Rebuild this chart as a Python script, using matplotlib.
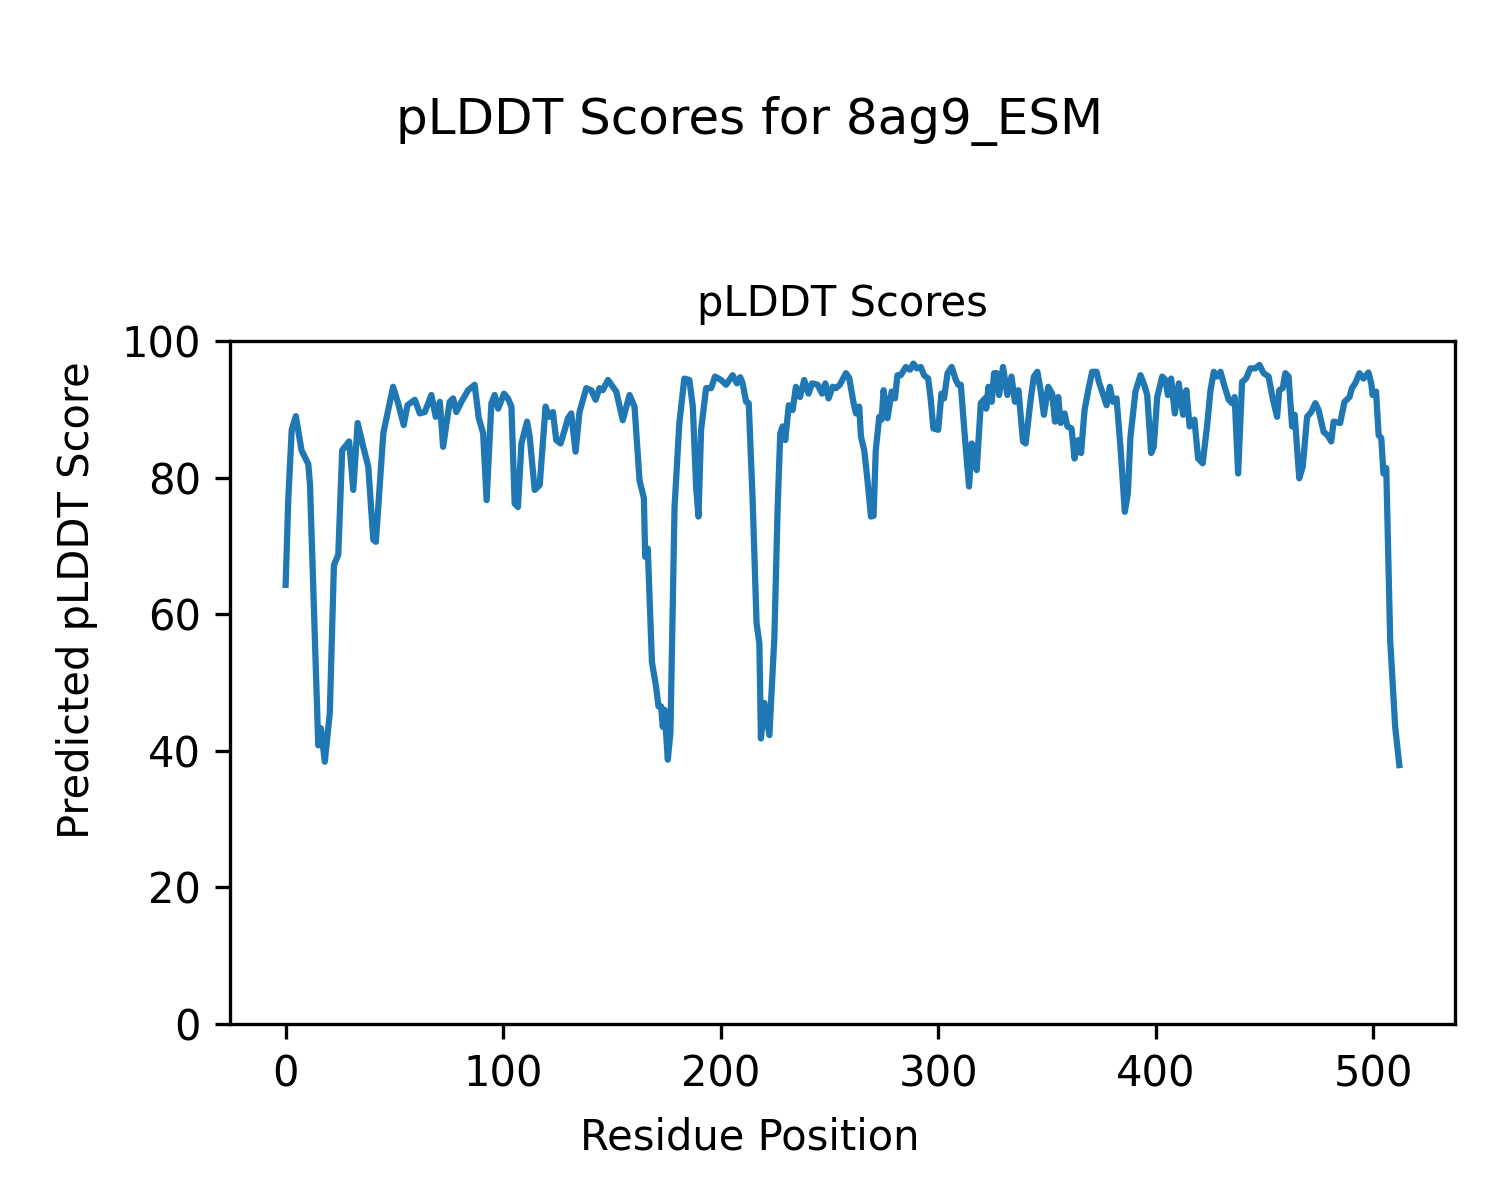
import matplotlib
matplotlib.use("Agg")
import matplotlib.pyplot as plt

title = "pLDDT Scores for 8ag9_ESM"
subtitle = "pLDDT Scores"
xlabel = "Residue Position"
ylabel = "Predicted pLDDT Score"

residue = [
    0, 1.2, 2.8, 4.7, 7.3, 10.4, 11.2, 15, 16.2, 18, 20.3, 22.2, 24.2, 26, 27.2, 29.2,
    31.1, 33.1, 35.7, 38, 40.3, 41.5, 44.9, 49.4, 51.7, 54.3, 56, 59.4, 61.7, 64, 67,
    69, 70.9, 72.4, 75.4, 77, 78.5, 80.8, 83.9, 86.9, 88.8, 90.8, 92.4, 94.6, 96.1,
    97.7, 100.4, 102.2, 103.8, 105.3, 106.8, 108.4, 111, 112.2, 114.5, 116.8, 119.5,
    121.1, 122.9, 124.4, 126.4, 128.3, 129.8, 131.3, 133.3, 135.1, 138.2, 140.5,
    142.5, 144.3, 145.8, 148.2, 152, 155, 158.1, 160.4, 162.7, 164.7, 165.3, 166.5,
    168.4, 170.3, 171.4, 172.6, 173.4, 174.2, 175.7, 176.9, 178.8, 181, 183.3, 185.6,
    187.2, 188.7, 189.8, 191, 193.3, 195.6, 197.4, 200.2, 202.5, 205.5, 207.5, 209,
    210.1, 211.7, 212.9, 214.7, 216.5, 217.8, 218.5, 220.1, 222.4, 224.7, 226.2,
    227.4, 228.5, 229.7, 231.3, 233.1, 234.6, 236.5, 238.4, 240.4, 242, 244.6, 246.6,
    248.1, 249.6, 251.5, 253, 254.8, 257.6, 259.1, 261, 262.2, 263.7, 264.5, 266,
    267.5, 269.1, 270.3, 271.3, 272.9, 274, 274.9, 276.7, 278.6, 280.1, 281.3, 282.8,
    285.1, 287.1, 288.6, 290.2, 292, 293.5, 295.4, 296.6, 297.8, 300, 301.5, 302.7,
    304.3, 306.2, 308.1, 309.2, 310.4, 312.5, 314.2, 315.4, 316.5, 317.7, 319.6,
    321.5, 322.1, 323.1, 324.6, 325.7, 326.9, 328, 329.8, 331.8, 333.7, 335.3, 336.9,
    339, 340.2, 342.5, 344, 345.6, 347.1, 348.6, 350.6, 352.4, 353.7, 355.2, 356.3,
    358.1, 359.4, 361.3, 362.7, 364.4, 365.7, 367.3, 369.3, 370.8, 372.8, 373.9,
    375.9, 377.4, 378.9, 380.3, 382, 383.8, 385.8, 387.2, 388.4, 390.7, 393, 394.5,
    396.1, 397.9, 399.1, 400.7, 403, 404.5, 405.6, 407.1, 408.8, 410.6, 412.6, 414.1,
    415.6, 417.8, 419.5, 421.6, 423.6, 425.2, 426.7, 428.2, 429.8, 431.7, 433.6,
    435.1, 436.3, 437.9, 439.7, 441.5, 443.5, 445.8, 447.7, 449.6, 451.9, 453.8,
    455.8, 456.8, 458.4, 459.6, 461.1, 462.7, 463.9, 466, 467.6, 469.6, 471.5, 473.4,
    474.9, 477.2, 479, 480.7, 481.8, 484.8, 486.8, 489.1, 490.2, 491.7, 493.7, 495.5,
    497.8, 499.1, 499.7, 501.3, 502.5, 503.7, 504.7, 506, 507.8, 510.1, 512,
]

plddt = [
    64.3, 76.7, 87, 89, 84, 82, 79, 40.8, 43.3, 38.4, 45.5, 67.2, 68.7, 84, 84.5, 85.3,
    78.2, 88, 84.5, 81.6, 70.9, 70.6, 86.5, 93.3, 90.9, 87.7, 90.6, 91.4, 89.4, 89.6, 92.1,
    88.9, 91.1, 84.5, 91.1, 91.6, 89.6, 91.1, 92.8, 93.6, 88.7, 86.5, 76.7, 90.9, 92.1,
    90.1, 92.3, 91.6, 90.4, 76.2, 75.7, 85, 88.2, 86, 78.2, 78.9, 90.4,
    88.9, 89.6, 85.5, 85, 87, 88.7, 89.4, 83.8, 89.6, 93.1, 92.8,
    91.4, 93.1, 92.8, 94.3, 92.6, 88.4, 92.1, 90.4, 79.6, 77, 68.4, 69.6,
    53, 49.4, 46.5, 46.5, 43.5, 46, 38.7, 42.6, 75.7, 88, 94.5, 94.3,
    90.4, 78.7, 74.3, 87, 93.1, 93.1, 94.8, 94.3, 93.6, 95, 93.8, 94.7,
    93.8, 91.1, 90.9, 76.7, 58.7, 55.7, 41.8, 47, 42.3, 56.7, 75.7,
    86.5, 87.5, 85.5, 90.6, 89.9, 93.3, 91.8, 94.3, 92.3, 93.8, 93.6, 92.3,
    93.8, 91.6, 93.3, 93.1, 93.6, 95.3, 94.6, 91.1, 89.4, 90.4, 86, 84,
    79.6, 74.3, 74.4, 84, 88.9, 88.5, 92.8, 88.7, 92.6, 91.6, 95, 95,
    96.2, 95.8, 96.7, 96, 96.2, 95, 94.5, 91.4, 87.2, 87, 92.3, 91.6,
    95.3, 96.2, 94.3, 93.6, 93.6, 85, 78.7, 85, 84.5, 81.1, 90.9,
    91.6, 90.1, 93.3, 91.1, 95.3, 95.3, 92.1, 96.2, 92.1, 94.8, 91.1, 92.8,
    85.3, 85, 91.4, 94.8, 95.5, 92.8, 89.2, 93.3, 92.3, 88.2, 91.8, 88,
    89.4, 87.5, 87.2, 82.8, 85.5, 83.6, 89.9, 93.3, 95.5, 95.5, 94,
    92.1, 90.6, 93.3, 91.1, 91.6, 84.5, 75, 77.7, 86, 92.6, 95, 93.8,
    92.1, 83.6, 84.5, 91.8, 94.8, 94.3, 92.1, 94.5, 89.4, 93.8, 89.2, 92.8,
    87.5, 88.5, 82.8, 82.1, 87.5, 92.8, 95.5, 94.8, 95.5, 93.3, 91.4,
    90.9, 91.8, 80.6, 94, 94.5, 96, 96, 96.5, 95.3, 94.8, 91.6,
    88.9, 92.8, 93.1, 95.3, 94.8, 87.5, 89.2, 79.9, 81.6, 88.9, 89.6, 90.9,
    89.9, 86.7, 86.2, 85.3, 88.2, 88, 91.1, 91.8, 93.1, 93.8, 95.3, 94.5,
    95.4, 93.8, 92.1, 92.6, 86.2, 85.8, 80.6, 81.4, 56.2, 43.5, 37.9,
]

fig = plt.figure(figsize=(5, 4), dpi=300)
ax = fig.add_axes([0.1533, 0.1467, 0.8167, 0.5691])
ax.plot(residue, plddt, color="#1f77b4", linewidth=1.5)
ax.set_ylim(0, 100)
ax.set_title(subtitle, fontsize=10)
fig.text(0.5, 1 - 1138 / 1200, xlabel, ha="center", va="center", fontsize=10)
fig.text(77 / 1500, 0.5, ylabel, ha="center", va="center", rotation=90, fontsize=10)
fig.suptitle(title, fontsize=12, y=0.92)
fig.savefig("out.png", dpi=300)
